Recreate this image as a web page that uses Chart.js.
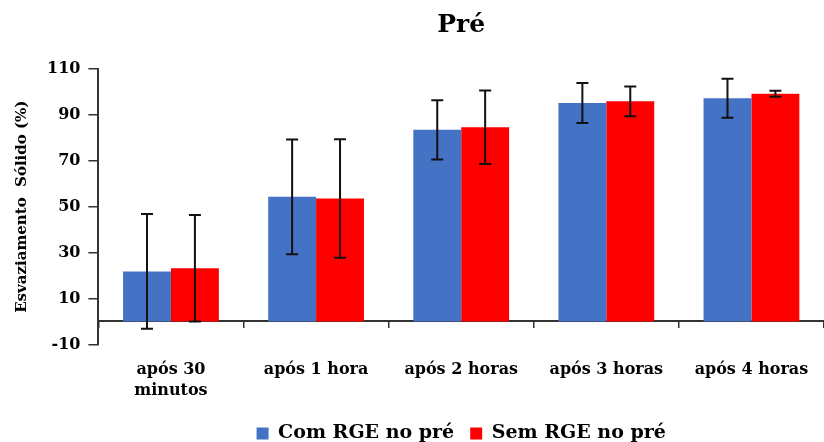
<!DOCTYPE html>
<html>
<head>
<meta charset="utf-8">
<script src="https://cdn.jsdelivr.net/npm/chart.js@4.4.1/dist/chart.umd.min.js"></script>
<style>
html,body{margin:0;padding:0;background:#fff;}
#wrap{width:824px;height:442px;}
</style>
</head>
<body>
<div id="wrap"><canvas id="c" width="824" height="442"></canvas></div>
<script>
const categories = [['após 30','minutos'], 'após 1 hora', 'após 2 horas', 'após 3 horas', 'após 4 horas'];
const seriesNames = ['Com RGE no pré', 'Sem RGE no pré'];
const comRGE = [21.8, 54.3, 83.5, 95.2, 97.3];
const comRGEsd = [25.0, 25.0, 12.9, 8.7, 8.5];
const semRGE = [23.2, 53.6, 84.6, 95.9, 99.2];
const semRGEsd = [23.2, 25.8, 16.0, 6.5, 1.3];
const yTicks = [-10, 10, 30, 50, 70, 90, 110];

const FONT = "'DejaVu Serif', 'Liberation Serif', serif";

const errorBars = {
  id: 'errorBars',
  afterDatasetsDraw(chart) {
    const ctx = chart.ctx;
    const ys = chart.scales.y;
    ctx.save();
    ctx.strokeStyle = '#111';
    ctx.lineWidth = 2;
    chart.data.datasets.forEach((ds, di) => {
      const meta = chart.getDatasetMeta(di);
      meta.data.forEach((bar, i) => {
        const m = ds.data[i], s = ds.sd[i];
        const x = bar.x;
        const yt = ys.getPixelForValue(m + s);
        const yb = ys.getPixelForValue(m - s);
        ctx.beginPath();
        ctx.moveTo(x, yt); ctx.lineTo(x, yb);
        ctx.moveTo(x - 6, yt); ctx.lineTo(x + 6, yt);
        ctx.moveTo(x - 6, yb); ctx.lineTo(x + 6, yb);
        ctx.stroke();
      });
    });
    ctx.restore();
  }
};

new Chart(document.getElementById('c'), {
  type: 'bar',
  data: {
    labels: categories,
    datasets: [
      { label: seriesNames[0], data: comRGE, sd: comRGEsd, backgroundColor: '#4472C4', categoryPercentage: 0.66, barPercentage: 1 },
      { label: seriesNames[1], data: semRGE, sd: semRGEsd, backgroundColor: '#FF0000', categoryPercentage: 0.66, barPercentage: 1 }
    ]
  },
  options: {
    responsive: false,
    animation: false,
    devicePixelRatio: 1,
    layout: { padding: { left: 13, right: 0, top: 0, bottom: -11 } },
    plugins: {
      tooltip: { enabled: false },
      title: {
        display: true, text: 'Pré', fullSize: false, color: '#000',
        font: { family: FONT, size: 25, weight: 'bold' },
        padding: { top: 10, bottom: 29 }
      },
      legend: {
        position: 'bottom', fullSize: false,
        labels: {
          color: '#000', boxWidth: 12, boxHeight: 12, padding: 16,
          font: { family: FONT, size: 19, weight: 'bold' }
        }
      }
    },
    scales: {
      x: {
        type: 'category',
        position: { y: 0 },
        offset: true,
        grid: { offset: true, drawOnChartArea: false, drawTicks: true, tickLength: 6, color: '#333', lineWidth: 1.5 },
        border: { display: true, color: '#333', width: 2 },
        ticks: { display: false }
      },
      x2: {
        type: 'category',
        position: 'bottom',
        offset: true,
        min: 0, max: categories.length - 1,
        grid: { display: false },
        border: { display: false },
        ticks: { color: '#000', padding: 7, font: { family: FONT, size: 16, weight: 'bold', lineHeight: 1.3 }, maxRotation: 0 }
      },
      y: {
        min: -10, max: 110,
        afterBuildTicks: (s) => { s.ticks = yTicks.map(v => ({ value: v })); },
        grid: { drawOnChartArea: false, drawTicks: true, tickLength: 10, color: '#333', lineWidth: 1.5 },
        border: { display: true, color: '#333', width: 2 },
        ticks: { color: '#000', padding: 8, font: { family: FONT, size: 16, weight: 'bold' } },
        title: { display: true, text: 'Esvaziamento  Sólido (%)', color: '#000', font: { family: FONT, size: 15, weight: 'bold' }, padding: { top: 0, bottom: 8 } }
      }
    }
  },
  plugins: [errorBars]
});
</script>
</body>
</html>
